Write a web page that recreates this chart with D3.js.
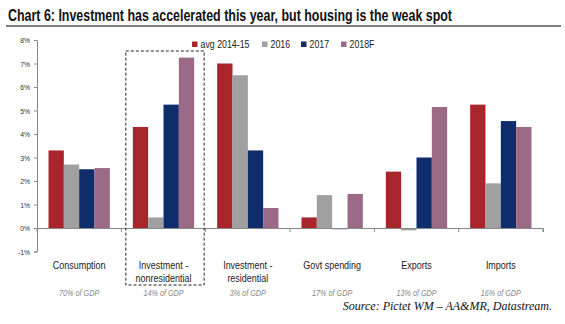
<!DOCTYPE html>
<html>
<head>
<meta charset="utf-8">
<script src="https://cdn.jsdelivr.net/npm/d3@7"></script>
<style>
  body { margin: 0; background: #fff; }
  svg { display: block; }
  .narrow { font-family: "Liberation Sans", "DejaVu Sans", sans-serif; }
</style>
</head>
<body>
<svg width="565" height="324"></svg>
<script>
// chart data
var categories = ["Consumption", "Investment - nonresidential", "Investment - residential", "Govt spending", "Exports", "Imports"];
var labelLines = [["Consumption"], ["Investment -", "nonresidential"], ["Investment -", "residential"], ["Govt spending"], ["Exports"], ["Imports"]];
var gdpShare = ["70% of GDP", "14% of GDP", "3% of GDP", "17% of GDP", "13% of GDP", "16% of GDP"];
var seriesNames = ["avg 2014-15", "2016", "2017", "2018F"];
var avg1415 = [3.3, 4.3, 7.0, 0.45, 2.4, 5.25];
var y2016 = [2.7, 0.45, 6.5, 1.4, -0.1, 1.9];
var y2017 = [2.5, 5.25, 3.3, -0.05, 3.0, 4.55];
var y2018F = [2.55, 7.25, 0.85, 1.45, 5.15, 4.3];
var yTicks = [-1, 0, 1, 2, 3, 4, 5, 6, 7, 8];

var colors = ["#a8262b", "#a0a0a0", "#0f2c6b", "#9a6a86"];
var series = [avg1415, y2016, y2017, y2018F];

var svg = d3.select("svg");

// squeeze text horizontally, no condensed fonts are installed
function condense(sel, f) {
  sel.each(function() {
    var w = this.getComputedTextLength();
    d3.select(this).attr("textLength", w * f).attr("lengthAdjust", "spacingAndGlyphs");
  });
}

// title
svg.append("text")
    .attr("class", "narrow")
    .attr("x", 8).attr("y", 21)
    .attr("font-size", 16.5).attr("font-weight", "bold")
    .attr("fill", "#111")
    .attr("textLength", 444).attr("lengthAdjust", "spacingAndGlyphs")
    .text("Chart 6: Investment has accelerated this year, but housing is the weak spot");
svg.append("line")
    .attr("x1", 6).attr("x2", 561).attr("y1", 26).attr("y2", 26)
    .attr("stroke", "#000").attr("stroke-width", 1.2);

// scales
var x = d3.scaleBand().domain(categories).range([37, 543]).paddingInner(0).paddingOuter(0);
var xs = d3.scaleBand().domain(d3.range(4)).range([0, x.bandwidth()]).paddingOuter(0.75).paddingInner(0);
var y = d3.scaleLinear().domain([-1, 8]).range([251.5, 40]);

// y axis
var yAxis = svg.append("g")
    .attr("transform", "translate(37,0)")
    .call(d3.axisLeft(y).tickValues(yTicks).tickSize(3).tickFormat(function(d) { return d + "%"; }));
yAxis.select(".domain").attr("stroke", "#888");
yAxis.selectAll(".tick line").attr("stroke", "#888");
yAxis.selectAll("text").attr("class", "narrow").attr("font-size", 8).attr("fill", "#333").attr("dx", -1)
    .call(condense, 0.85);

// bars
var groups = svg.append("g").selectAll("g")
    .data(categories)
    .enter().append("g")
    .attr("transform", function(d) { return "translate(" + x(d) + ",0)"; });

groups.selectAll("rect")
    .data(function(d, i) { return series.map(function(s, k) { return { k: k, v: s[i] }; }); })
    .enter().append("rect")
    .attr("x", function(d) { return xs(d.k); })
    .attr("width", xs.bandwidth())
    .attr("y", function(d) { return y(Math.max(0, d.v)); })
    .attr("height", function(d) { return Math.max(1, Math.abs(y(d.v) - y(0))); })
    .attr("fill", function(d) { return colors[d.k]; });

// x axis at zero
var xAxis = svg.append("g")
    .attr("transform", "translate(0," + y(0) + ")")
    .call(d3.axisBottom(x).tickSize(4).tickFormat(""));
xAxis.select(".domain").attr("stroke", "#888");
xAxis.selectAll(".tick").remove();
xAxis.selectAll(".sep")
    .data(categories.concat(["end"]))
    .enter().append("line")
    .attr("x1", function(d, i) { return 37 + i * x.bandwidth(); })
    .attr("x2", function(d, i) { return 37 + i * x.bandwidth(); })
    .attr("y1", 0).attr("y2", 4)
    .attr("stroke", "#888");

// category labels
var labels = svg.append("g").selectAll("text")
    .data(categories)
    .enter().append("text")
    .attr("class", "narrow")
    .attr("text-anchor", "middle")
    .attr("font-size", 11.5)
    .attr("fill", "#222")
    .attr("x", function(d) { return x(d) + x.bandwidth() / 2; })
    .attr("y", 269);
labels.selectAll("tspan")
    .data(function(d, i) { return labelLines[i]; })
    .enter().append("tspan")
    .attr("x", function() { return d3.select(this.parentNode).attr("x"); })
    .attr("dy", function(d, j) { return j === 0 ? 0 : 13; })
    .text(function(d) { return d; })
    .call(condense, 0.78);

svg.append("g").selectAll("text")
    .data(gdpShare)
    .enter().append("text")
    .attr("class", "narrow")
    .attr("text-anchor", "middle")
    .attr("font-size", 8.5).attr("font-style", "italic")
    .attr("fill", "#888")
    .attr("x", function(d, i) { return x(categories[i]) + x.bandwidth() / 2; })
    .attr("y", 296)
    .text(function(d) { return d; })
    .call(condense, 0.85);

// dashed highlight box around nonresidential investment
svg.append("rect")
    .attr("x", x(categories[1]) + 4.5).attr("y", 51)
    .attr("width", x.bandwidth() - 6).attr("height", 234)
    .attr("fill", "none").attr("stroke", "#222")
    .attr("stroke-width", 1).attr("stroke-dasharray", "3,2");

// legend
var legendX = [192, 262, 301, 341];
var legend = svg.append("g").selectAll("g")
    .data(seriesNames)
    .enter().append("g")
    .attr("transform", function(d, i) { return "translate(" + legendX[i] + ",40)"; });
legend.append("rect").attr("width", 5.5).attr("height", 5.5).attr("y", 1.5)
    .attr("fill", function(d, i) { return colors[i]; });
legend.append("text")
    .attr("class", "narrow")
    .attr("x", 8.5).attr("y", 8)
    .attr("font-size", 11).attr("fill", "#222")
    .text(function(d) { return d; })
    .call(condense, 0.8);

// source
svg.append("text")
    .attr("x", 552).attr("y", 310)
    .attr("text-anchor", "end")
    .attr("font-family", "'Liberation Serif', 'DejaVu Serif', serif")
    .attr("font-style", "italic").attr("font-size", 12)
    .attr("fill", "#111")
    .text("Source: Pictet WM \u2013 AA&MR, Datastream.");
</script>
</body>
</html>
